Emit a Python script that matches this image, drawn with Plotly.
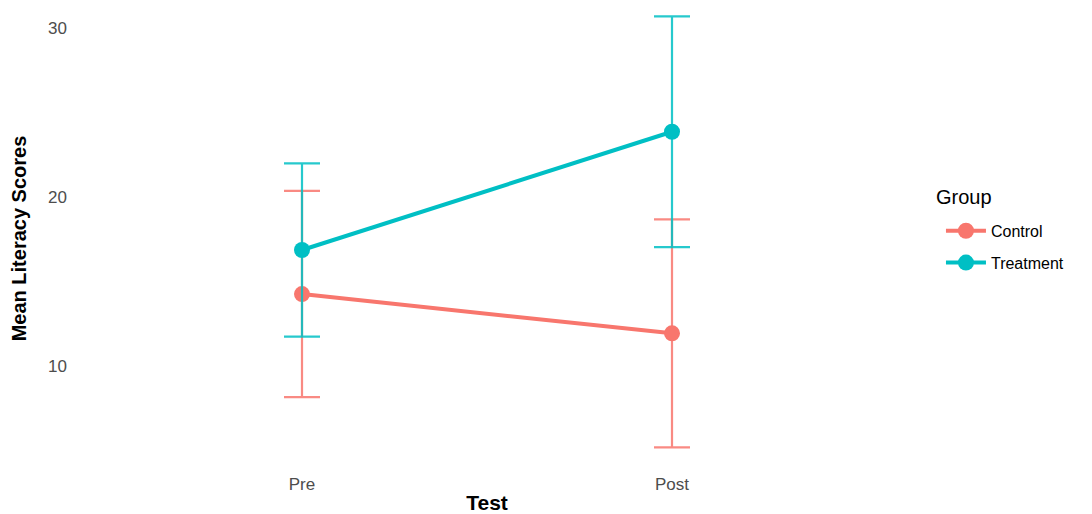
import plotly.graph_objects as go

tests = ["Pre", "Post"]
groups = ["Control", "Treatment"]
means = {
    "Control": [14.26, 11.93],
    "Treatment": [16.87, 23.88],
}
errors = {
    "Control": [6.11, 6.76],
    "Treatment": [5.13, 6.84],
}
colors = {"Control": "#F8766D", "Treatment": "#00BFC4"}
bar_colors = {"Control": "rgba(248,118,109,0.85)", "Treatment": "rgba(0,191,196,0.85)"}

FONT = "Liberation Sans, Arial, Helvetica, sans-serif"

fig = go.Figure()
for g in groups:
    fig.add_trace(go.Scatter(
        x=tests, y=means[g], name=g, mode="lines+markers",
        line=dict(color=colors[g], width=4),
        marker=dict(color=colors[g], size=16),
        error_y=dict(type="data", array=errors[g], symmetric=True,
                     color=bar_colors[g], thickness=2.2, width=18),
        legendgroup=g,
    ))

fig.add_annotation(
    text="Group", xref="paper", yref="paper", x=1.049, y=1 - 189 / 461,
    xanchor="left", yanchor="middle", showarrow=False,
    font=dict(size=20, color="#000000", family=FONT),
)

fig.update_layout(
    width=1084, height=506,
    margin=dict(l=72, r=198, t=0, b=45),
    plot_bgcolor="white", paper_bgcolor="white",
    font=dict(family=FONT, color="#000000"),
    showlegend=True,
    legend=dict(
        font=dict(size=16, color="#000000"),
        x=1.0577, xanchor="left", y=0.5535, yanchor="top",
        tracegroupgap=8, traceorder="grouped",
        itemwidth=40,
    ),
    xaxis=dict(
        range=[-0.6, 1.6], showgrid=False, zeroline=False, showline=False,
        ticks="", tickfont=dict(size=17, color="#4D4D4D"),
        ticklabelstandoff=3,
        title=dict(text="<b>Test</b>", font=dict(size=21, color="#000000"), standoff=6),
    ),
    yaxis=dict(
        range=[3.89, 31.215], showgrid=False, zeroline=False, showline=False,
        ticks="", tickvals=[10, 20, 30], tickfont=dict(size=17, color="#4D4D4D"),
        ticklabelstandoff=12,
        title=dict(text="<b>Mean Literacy Scores</b>", font=dict(size=20, color="#000000"), standoff=19),
    ),
)

fig.write_html("out.html")
